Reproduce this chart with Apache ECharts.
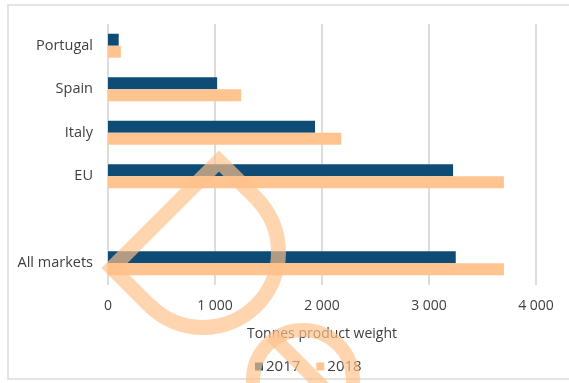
<!DOCTYPE html>
<html>
<head>
<meta charset="utf-8">
<script src="https://cdn.jsdelivr.net/npm/echarts@6/dist/echarts.min.js"></script>
<style>html,body{margin:0;padding:0;background:#fff}#c{width:569px;height:383px}</style>
</head>
<body>
<div id="c"></div>
<script>
const categories = ['Portugal', 'Spain', 'Italy', 'EU', '', 'All markets'];
const values2017 = [100, 1020, 1935, 3225, null, 3250];
const values2018 = [120, 1245, 2180, 3700, null, 3700];
const seriesNames = ['2017', '2018'];
const axisName = 'Tonnes product weight';

const FONT = '"Open Sans", Lato, sans-serif';
const TXT = '#404040';
const wm = 'rgba(255,193,138,0.68)';

const chart = echarts.init(document.getElementById('c'), null, {renderer: 'canvas'});
chart.setOption({
  animation: false,
  textStyle: {fontFamily: FONT},
  grid: {left: 108, right: 33, top: 24, bottom: 98, containLabel: false},
  legend: {
    data: seriesNames,
    top: 354,
    left: 250,
    itemWidth: 8, itemHeight: 8, itemGap: 16,
    icon: 'rect',
    textStyle: {color: TXT, fontSize: 15, fontFamily: FONT, padding: [0, 0, 0, -2]}
  },
  xAxis: {
    type: 'value', min: 0, max: 4000, interval: 1000,
    name: axisName, nameLocation: 'middle', nameGap: 42,
    nameTextStyle: {color: TXT, fontSize: 14, fontFamily: FONT},
    axisLine: {show: false}, axisTick: {show: false},
    axisLabel: {color: TXT, fontSize: 14, margin: 14, fontFamily: FONT,
      formatter: v => v >= 1000 ? String(v).replace(/(\d)(\d{3})$/, '$1 $2') : String(v)},
    splitLine: {show: true, lineStyle: {color: '#dcdcdc', width: 2}}
  },
  yAxis: {
    type: 'category', data: categories, inverse: true,
    axisLine: {show: false}, axisTick: {show: false},
    axisLabel: {color: TXT, fontSize: 14.5, margin: 15, fontFamily: FONT}
  },
  series: [
    {name: seriesNames[0], type: 'bar', data: values2017, barWidth: 12, barGap: '0%',
      itemStyle: {color: '#0f4c75'}},
    {name: seriesNames[1], type: 'bar', data: values2018, barWidth: 12, barGap: '0%',
      itemStyle: {color: '#ffc48f'}}
  ],
  graphic: [
    {type: 'rect', z: -1, silent: true,
      shape: {x: 8, y: 5, width: 600, height: 374},
      style: {fill: 'none', stroke: '#dcdcdc', lineWidth: 1.5}},
    {type: 'polyline', z: 100, silent: true,
      shape: {points: [[256.5, 198.5], [219, 161], [112, 268], [149.5, 305.5]]},
      style: {fill: 'none', stroke: wm, lineWidth: 15, lineJoin: 'miter'}},
    {type: 'arc', z: 100, silent: true,
      shape: {cx: 203, cy: 252, r: 75.5, startAngle: -Math.PI / 4, endAngle: 3 * Math.PI / 4, clockwise: true},
      style: {fill: 'none', stroke: wm, lineWidth: 15}},
    {type: 'circle', z: 100, silent: true,
      shape: {cx: 303, cy: 380, r: 50},
      style: {fill: 'none', stroke: wm, lineWidth: 14}},
    {type: 'line', z: 100, silent: true,
      shape: {x1: 272, y1: 336, x2: 330, y2: 394},
      style: {stroke: wm, lineWidth: 14}}
  ]
});
</script>
</body>
</html>
